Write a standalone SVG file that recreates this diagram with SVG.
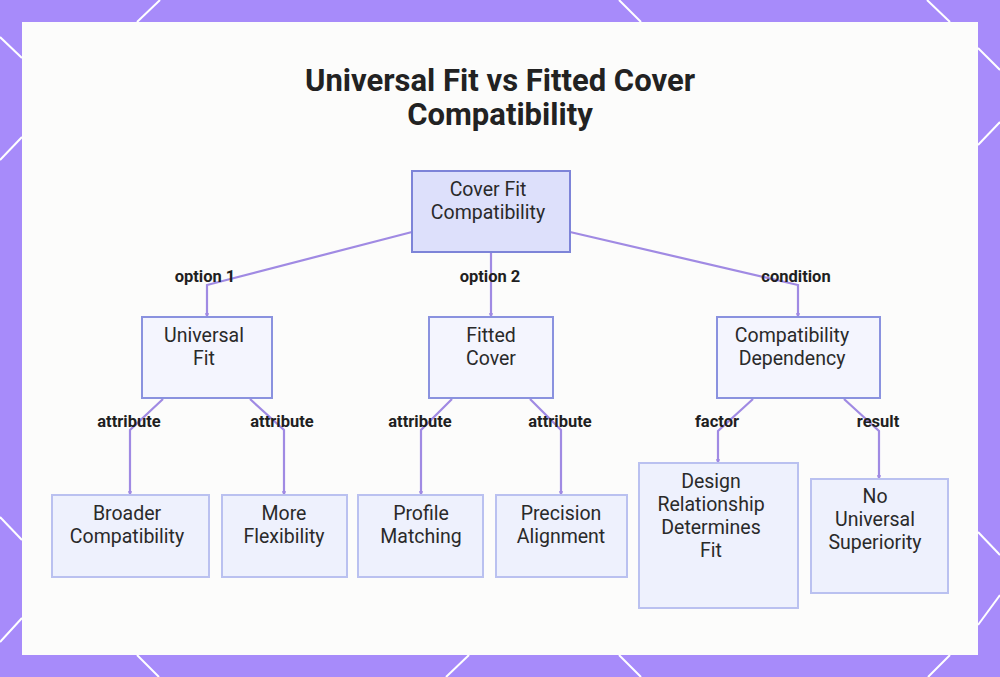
<svg xmlns="http://www.w3.org/2000/svg" width="1000" height="677" viewBox="0 0 1000 677">
<defs>
<style>
.bgline{stroke:#ffffff;stroke-width:2;fill:none}
.title{font-family:Roboto,"Liberation Sans",sans-serif;font-weight:700;font-size:31px;fill:#222;text-anchor:middle}
.nt{font-family:Roboto,"Liberation Sans",sans-serif;font-size:19.5px;fill:#2a2a2a;text-anchor:middle}
.el{font-family:Roboto,"Liberation Sans",sans-serif;font-weight:700;font-size:16.5px;fill:#1f1f1f;text-anchor:middle}
.root{fill:#dde0fb;stroke:#7d84d8;stroke-width:2}
.mid{fill:#f4f5fe;stroke:#8a92df;stroke-width:2}
.leaf{fill:#eef1fd;stroke:#bac1f0;stroke-width:2}
.conn{fill:none;stroke:#a08ae3;stroke-width:2.2;marker-end:url(#arr)}
</style>
<marker id="arr" viewBox="0 0 6 6" refX="5" refY="3" markerWidth="2" markerHeight="2" orient="auto">
<path d="M0,0 L6,3 L0,6 z" fill="#a08ae3"/>
</marker>
</defs>
<rect x="0" y="0" width="1000" height="677" fill="#a78bfa"/>
<g id="bg-lines">
<line class="bgline" x1="160" y1="0" x2="137" y2="22"/>
<line class="bgline" x1="619" y1="0" x2="641" y2="22"/>
<line class="bgline" x1="927" y1="0" x2="950" y2="22"/>
<line class="bgline" x1="978" y1="48" x2="1000" y2="70"/>
<line class="bgline" x1="1000" y1="122" x2="978" y2="145"/>
<line class="bgline" x1="978" y1="532" x2="1000" y2="555"/>
<line class="bgline" x1="1000" y1="595" x2="978" y2="625"/>
<line class="bgline" x1="0" y1="37" x2="22" y2="58"/>
<line class="bgline" x1="0" y1="160" x2="22" y2="137"/>
<line class="bgline" x1="0" y1="517" x2="22" y2="540"/>
<line class="bgline" x1="22" y1="618" x2="0" y2="642"/>
<line class="bgline" x1="137" y1="655" x2="159" y2="677"/>
<line class="bgline" x1="469" y1="655" x2="446" y2="677"/>
<line class="bgline" x1="619" y1="655" x2="641" y2="677"/>
<line class="bgline" x1="950" y1="655" x2="928" y2="677"/>
</g>
<rect x="22" y="22" width="956" height="633" fill="#fcfcfb"/>
<g id="title">
<text class="title" x="500" y="91">Universal Fit vs Fitted Cover</text>
<text class="title" x="500" y="125">Compatibility</text>
</g>
<g id="connectors">
<polyline class="conn" points="412,232 207,285 207,317"/>
<polyline class="conn" points="491,252 491,317"/>
<polyline class="conn" points="570,232 798,285 798,317"/>
<polyline class="conn" points="163,399 130,430 130,495"/>
<polyline class="conn" points="250,399 284,430 284,495"/>
<polyline class="conn" points="452,399 421,430 421,495"/>
<polyline class="conn" points="530,399 561,430 561,495"/>
<polyline class="conn" points="753,399 718,431 718,463"/>
<polyline class="conn" points="844,399 879,431 879,479"/>
<text class="el" x="205" y="282">option 1</text>
<text class="el" x="490" y="282">option 2</text>
<text class="el" x="796" y="282">condition</text>
<text class="el" x="129" y="427">attribute</text>
<text class="el" x="282" y="427">attribute</text>
<text class="el" x="420" y="427">attribute</text>
<text class="el" x="560" y="427">attribute</text>
<text class="el" x="717" y="427">factor</text>
<text class="el" x="878" y="427">result</text>
</g>
<g id="node-root">
<rect class="root" x="412" y="171" width="158" height="81"/>
<text class="nt" x="488" y="196">Cover Fit</text>
<text class="nt" x="488" y="219">Compatibility</text>
</g>
<g id="node-universal">
<rect class="mid" x="142" y="317" width="130" height="81"/>
<text class="nt" x="204" y="342">Universal</text>
<text class="nt" x="204" y="365">Fit</text>
</g>
<g id="node-fitted">
<rect class="mid" x="429" y="317" width="124" height="81"/>
<text class="nt" x="491" y="342">Fitted</text>
<text class="nt" x="491" y="365">Cover</text>
</g>
<g id="node-dependency">
<rect class="mid" x="717" y="317" width="163" height="81"/>
<text class="nt" x="792" y="342">Compatibility</text>
<text class="nt" x="792" y="365">Dependency</text>
</g>
<g id="node-broader">
<rect class="leaf" x="52" y="495" width="157" height="82"/>
<text class="nt" x="127" y="520">Broader</text>
<text class="nt" x="127" y="543">Compatibility</text>
</g>
<g id="node-flex">
<rect class="leaf" x="222" y="495" width="125" height="82"/>
<text class="nt" x="284" y="520">More</text>
<text class="nt" x="284" y="543">Flexibility</text>
</g>
<g id="node-profile">
<rect class="leaf" x="358" y="495" width="125" height="82"/>
<text class="nt" x="421" y="520">Profile</text>
<text class="nt" x="421" y="543">Matching</text>
</g>
<g id="node-precision">
<rect class="leaf" x="496" y="495" width="131" height="82"/>
<text class="nt" x="561" y="520">Precision</text>
<text class="nt" x="561" y="543">Alignment</text>
</g>
<g id="node-design">
<rect class="leaf" x="639" y="463" width="159" height="145"/>
<text class="nt" x="711" y="488">Design</text>
<text class="nt" x="711" y="511">Relationship</text>
<text class="nt" x="711" y="534">Determines</text>
<text class="nt" x="711" y="557">Fit</text>
</g>
<g id="node-nouniversal">
<rect class="leaf" x="811" y="479" width="137" height="114"/>
<text class="nt" x="875" y="503">No</text>
<text class="nt" x="875" y="526">Universal</text>
<text class="nt" x="875" y="549">Superiority</text>
</g>
</svg>
